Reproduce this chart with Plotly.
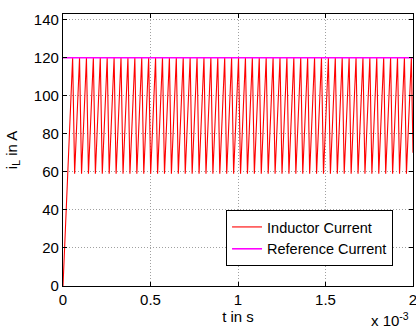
import plotly.graph_objects as go

# Turning points of the inductor current (times in microseconds)
start_time = [0.0]
start_value = [0.0]
peak_times = [55, 94.5, 134, 173.5, 213, 252.5, 292, 331.5, 371, 410.5, 450, 489.5,
              529, 568.5, 608, 647.5, 687, 726.5, 766, 805.5, 845, 884.5, 924, 963.5,
              1003, 1042.5, 1082, 1121.5, 1161, 1200.5, 1240, 1279.5, 1319, 1358.5,
              1398, 1437.5, 1477, 1516.5, 1556, 1595.5, 1635, 1674.5, 1714, 1753.5,
              1793, 1832.5, 1872, 1911.5, 1951, 1990.5]
valley_times = [66.5, 106, 145.5, 185, 224.5, 264, 303.5, 343, 382.5, 422, 461.5, 501,
                540.5, 580, 619.5, 659, 698.5, 738, 777.5, 817, 856.5, 896, 935.5, 975,
                1014.5, 1054, 1093.5, 1133, 1172.5, 1212, 1251.5, 1291, 1330.5, 1370,
                1409.5, 1449, 1488.5, 1528, 1567.5, 1607, 1646.5, 1686, 1725.5, 1765,
                1804.5, 1844, 1883.5, 1923, 1962.5]
peak_value = 120.0
valley_value = 59.0
end_time = [2000.0]
end_value = [70.0]

ref_times = [0.0, 2000.0]
ref_values = [120.0, 120.0]

x_ticks = [0, 0.5, 1, 1.5, 2]
x_tick_labels = ["0", "0.5", "1", "1.5", "2"]
y_ticks = [0, 20, 40, 60, 80, 100, 120, 140]

# build the inductor current trace from turning points
t_il = list(start_time)
v_il = list(start_value)
for i, tp in enumerate(peak_times):
    t_il.append(tp)
    v_il.append(peak_value)
    if i < len(valley_times):
        t_il.append(valley_times[i])
        v_il.append(valley_value)
t_il += end_time
v_il += end_value

t_il_s = [t * 1e-6 for t in t_il]
ref_s = [t * 1e-6 for t in ref_times]

FONT = "Liberation Sans, Arial, sans-serif"

fig = go.Figure()
fig.add_trace(go.Scatter(x=t_il_s, y=v_il, mode="lines", name="Inductor Current",
                         line=dict(color="#ff0000", width=1.1)))
fig.add_trace(go.Scatter(x=ref_s, y=ref_values, mode="lines", name="Reference Current",
                         line=dict(color="#ff00ff", width=1.6)))

axis_common = dict(showline=True, linecolor="black", linewidth=1.3, mirror="ticks",
                   ticks="inside", ticklen=4, tickcolor="black",
                   showgrid=True, gridcolor="#a0a0a0", griddash="1px,2px", gridwidth=1,
                   zeroline=False, ticklabeloverflow="allow",
                   tickfont=dict(family=FONT, size=15, color="black"))

fig.update_xaxes(range=[0, 2e-3], tickvals=[v * 1e-3 for v in x_ticks],
                 ticktext=x_tick_labels,
                 title=dict(text="t in s", font=dict(family=FONT, size=15, color="black"),
                            standoff=2),
                 **axis_common)
fig.update_yaxes(range=[0, 143], tickvals=y_ticks,
                 title=dict(text="i<sub>L</sub> in A",
                            font=dict(family=FONT, size=15, color="black"), standoff=12),
                 **axis_common)

fig.add_annotation(xref="paper", yref="paper", x=0.993, y=-0.122,
                   xanchor="right", yanchor="middle", showarrow=False,
                   text="x 10<sup>-3</sup>", font=dict(family=FONT, size=15, color="black"))

fig.update_layout(width=416, height=329, margin=dict(l=63, r=3, t=14, b=43, autoexpand=False),
                  plot_bgcolor="white", paper_bgcolor="white",
                  font=dict(family=FONT, size=15, color="black"),
                  legend=dict(x=0.943, y=0.0735, xanchor="right", yanchor="bottom",
                              bgcolor="white", bordercolor="black", borderwidth=1,
                              font=dict(family=FONT, size=14.5, color="black"),
                              tracegroupgap=0, itemwidth=30),
                  showlegend=True)

fig.write_html("out.html")
